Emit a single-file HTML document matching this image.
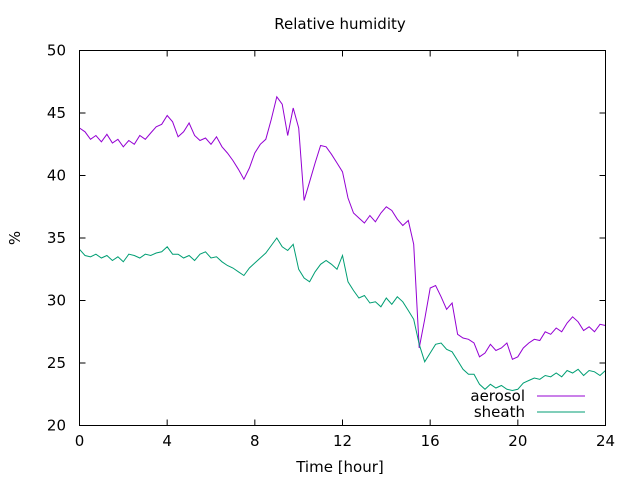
<!DOCTYPE html>
<html><head><meta charset="utf-8"><style>body{margin:0;background:#fff}svg{display:block;font-family:"DejaVu Sans","Liberation Sans",sans-serif}</style></head>
<body>
<svg id="chart" width="640" height="480">
<rect x="0" y="0" width="640" height="480" fill="#fff"/>
<text x="340" y="29" text-anchor="middle" font-size="15">Relative humidity</text>
<text x="340" y="472" text-anchor="middle" font-size="15">Time [hour]</text>
<text x="20" y="238" text-anchor="middle" font-size="15" transform="rotate(-90 20 238)">%</text>
<g id="axes"></g>
<g id="series"></g>
<rect x="79.5" y="50.5" width="526" height="375" fill="none" stroke="#000"/>
<g>
<text x="525" y="401" text-anchor="end" font-size="15">aerosol</text>
<line x1="537" y1="396" x2="585" y2="396" stroke="#9400d3"/>
<text x="525" y="417" text-anchor="end" font-size="15">sheath</text>
<line x1="537" y1="412" x2="585" y2="412" stroke="#009e73"/>
</g>
</svg>
<script>
const xTicks=[0,4,8,12,16,20,24];
const yTicks=[20,25,30,35,40,45,50];
const aerosol=[43.8,43.5,42.9,43.2,42.7,43.3,42.6,42.9,42.3,42.8,42.5,43.2,42.9,43.4,43.9,44.1,44.8,44.3,43.1,43.5,44.2,43.2,42.8,43.0,42.5,43.1,42.3,41.8,41.2,40.5,39.7,40.6,41.8,42.5,42.9,44.5,46.3,45.7,43.2,45.4,43.8,38.0,39.5,41.0,42.4,42.3,41.7,41.0,40.3,38.2,37.0,36.6,36.2,36.8,36.3,37.0,37.5,37.2,36.5,36.0,36.4,34.5,26.2,28.5,31.0,31.2,30.3,29.3,29.8,27.3,27.0,26.9,26.6,25.5,25.8,26.5,26.0,26.2,26.6,25.3,25.5,26.2,26.6,26.9,26.8,27.5,27.3,27.8,27.5,28.2,28.7,28.3,27.6,27.9,27.5,28.1,28.0];
const sheath=[34.1,33.6,33.5,33.7,33.4,33.6,33.2,33.5,33.1,33.7,33.6,33.4,33.7,33.6,33.8,33.9,34.3,33.7,33.7,33.4,33.6,33.2,33.7,33.9,33.4,33.5,33.1,32.8,32.6,32.3,32.0,32.6,33.0,33.4,33.8,34.4,35.0,34.3,34.0,34.5,32.5,31.8,31.5,32.3,32.9,33.2,32.9,32.5,33.6,31.5,30.8,30.2,30.4,29.8,29.9,29.5,30.2,29.7,30.3,29.9,29.2,28.5,26.5,25.1,25.8,26.5,26.6,26.1,25.9,25.2,24.5,24.1,24.1,23.3,22.9,23.3,23.0,23.2,22.9,22.8,22.9,23.4,23.6,23.8,23.7,24.0,23.9,24.2,23.9,24.4,24.2,24.5,24.0,24.4,24.3,24.0,24.4];
const step=0.25;
const X0=79.5,X1=605.5,Y0=425.5,Y1=50.5;
const sx=v=>X0+(v-0)/(24-0)*(X1-X0);
const sy=v=>Y0-(v-20)/(50-20)*(Y0-Y1);
const NS='http://www.w3.org/2000/svg';
const axes=document.getElementById('axes');
function mk(t,a){const e=document.createElementNS(NS,t);for(const k in a)e.setAttribute(k,a[k]);return e;}
xTicks.forEach(t=>{
  const x=sx(t);
  const l1=mk('line',{x1:x,y1:Y0,x2:x,y2:Y0-6,stroke:'#000'});
  
  
  axes.appendChild(l1);
  const l2=mk('line',{x1:x,y1:Y1,x2:x,y2:Y1+6,stroke:'#000'});
  
  
  axes.appendChild(l2);
  const tx=mk('text',{x:x,y:446,'text-anchor':'middle','font-size':15});
  tx.textContent=t;
  
  
  axes.appendChild(tx);
});
yTicks.forEach(t=>{
  const y=sy(t);
  const l1=mk('line',{x1:X0,y1:y,x2:X0+6,y2:y,stroke:'#000'});
  
  
  axes.appendChild(l1);
  const l2=mk('line',{x1:X1,y1:y,x2:X1-6,y2:y,stroke:'#000'});
  
  
  axes.appendChild(l2);
  const tx=mk('text',{x:66,y:y+5,'text-anchor':'end','font-size':15});
  tx.textContent=t;
  
  
  axes.appendChild(tx);
});
const sg=document.getElementById('series');
function line(arr,color,name){
  const d=arr.map((v,i)=>(i?'L':'M')+sx(i*step).toFixed(1)+','+sy(v).toFixed(1)).join(' ');
  const p=mk('path',{d:d,fill:'none',stroke:color,'stroke-width':1});
  
  
  sg.appendChild(p);
}
line(aerosol,'#9400d3','aerosol-line');
line(sheath,'#009e73','sheath-line');
</script>
</body></html>
